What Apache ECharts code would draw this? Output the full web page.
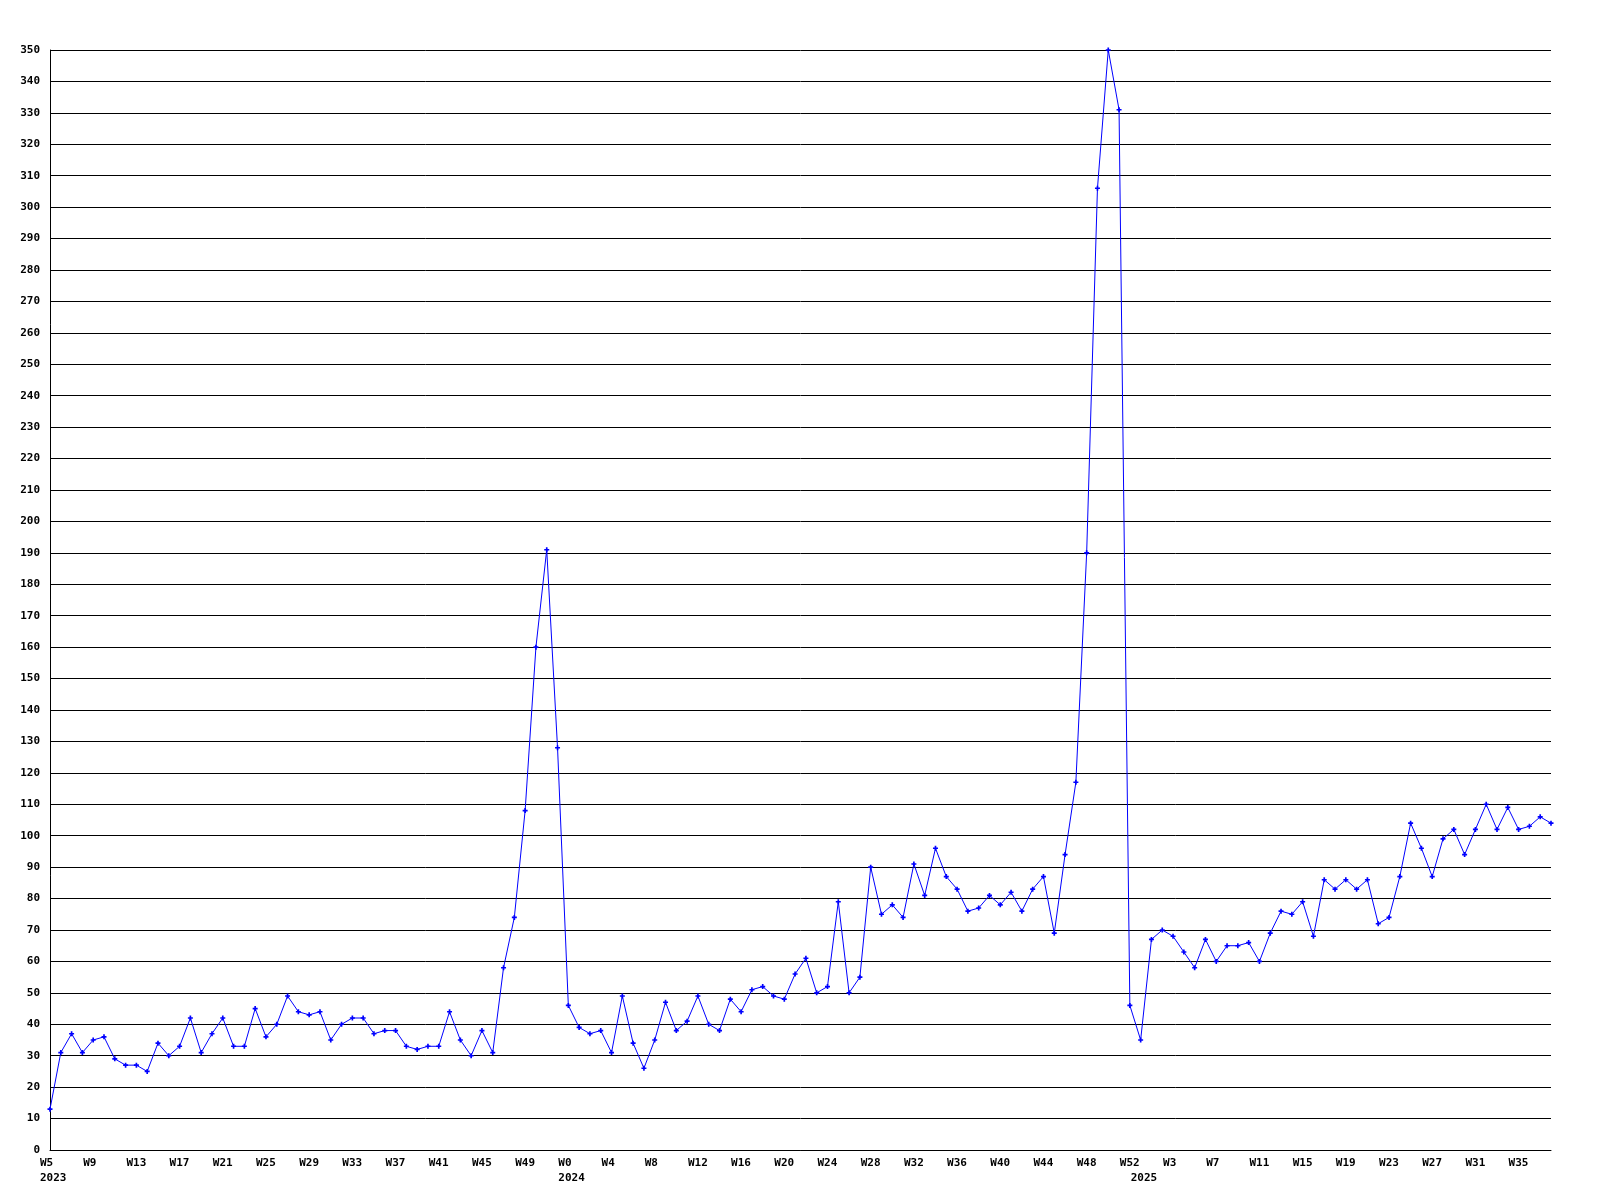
<!DOCTYPE html>
<html>
<head>
<meta charset="utf-8">
<script src="https://cdn.jsdelivr.net/npm/echarts@6/dist/echarts.min.js"></script>
<style>
html,body{margin:0;padding:0;background:#fff;}
#chart{width:1600px;height:1200px;}
</style>
</head>
<body>
<div id="chart"></div>
<script>
// Week categories (year, week)
const weeks2023 = ["W5","W6","W7","W8","W9","W10","W11","W12","W13","W14","W15","W16","W17","W18","W19","W20","W21","W22","W23","W24","W25","W26","W27","W28","W29","W30","W31","W32","W33","W34","W35","W36","W37","W38","W39","W40","W41","W42","W43","W44","W45","W46","W47","W48","W49","W50","W51","W52"];
const weeks2024 = ["W0","W1","W2","W3","W4","W5","W6","W7","W8","W9","W10","W11","W12","W13","W14","W15","W16","W17","W18","W19","W20","W21","W22","W23","W24","W25","W26","W27","W28","W29","W30","W31","W32","W33","W34","W35","W36","W37","W38","W39","W40","W41","W42","W43","W44","W45","W46","W47","W48","W49","W50","W51","W52"];
const weeks2025 = ["W0","W1","W2","W3","W4","W5","W6","W7","W8","W9","W10","W11","W12","W13","W14","W15","W16","W17","W18","W19","W20","W21","W22","W23","W24","W25","W26","W27","W28","W29","W30","W31","W32","W33","W34","W35","W36","W37","W38"];

// Series values
const values2023 = [13,31,37,31,35,36,29,27,27,25,34,30,33,42,31,37,42,33,33,45,36,40,49,44,43,44,35,40,42,42,37,38,38,33,32,33,33,44,35,30,38,31,58,74,108,160,191,128];
const values2024 = [46,39,37,38,31,49,34,26,35,47,38,41,49,40,38,48,44,51,52,49,48,56,61,50,52,79,50,55,90,75,78,74,91,81,96,87,83,76,77,81,78,82,76,83,87,69,94,117,190,306,350,331,46];
const values2025 = [35,67,70,68,63,58,67,60,65,65,66,60,69,76,75,79,68,86,83,86,83,86,72,74,87,104,96,87,99,102,94,102,110,102,109,102,103,106,104];

// Y tick settings
const yMin = 0, yMax = 350, yStep = 10;

const categories = [];
const yearStarts = {};
[[2023, weeks2023], [2024, weeks2024], [2025, weeks2025]].forEach(([y, ws]) => {
  yearStarts[categories.length] = y;
  ws.forEach(w => categories.push(y + " " + w));
});
const values = values2023.concat(values2024, values2025);

const font = { fontFamily: '"DejaVu Sans Mono", "Liberation Mono", monospace', fontWeight: 'bold', fontSize: 11, color: '#000' };

const chart = echarts.init(document.getElementById('chart'), null, { renderer: 'canvas' });
chart.setOption({
  animation: false,
  backgroundColor: '#fff',
  grid: { left: 50, right: 49, top: 50, bottom: 50, containLabel: false, outerBoundsMode: 'none' },
  xAxis: {
    type: 'category',
    data: categories,
    boundaryGap: false,
    axisLine: { show: true, lineStyle: { color: '#000', width: 1 } },
    axisTick: { show: false },
    splitLine: { show: false },
    axisLabel: Object.assign({}, font, {
      interval: (i) => i % 4 === 0 || yearStarts[i] !== undefined,
      align: 'left',
      padding: [0, 0, 0, -10],
      margin: 6,
      lineHeight: 15,
      hideOverlap: false,
      formatter: (val, i) => {
        const parts = val.split(' ');
        const w = (i % 4 === 0) ? parts[1] : ' ';
        return yearStarts[i] !== undefined ? w + '\n' + parts[0] : w;
      }
    })
  },
  yAxis: {
    type: 'value',
    min: yMin, max: yMax, interval: yStep,
    axisLine: { show: true, lineStyle: { color: '#000', width: 1 } },
    axisTick: { show: false },
    splitLine: { show: true, lineStyle: { color: '#000', width: 1 } },
    axisLabel: Object.assign({}, font, { margin: 10, showMinLabel: true, showMaxLabel: true })
  },
  series: [{
    type: 'line',
    data: values,
    symbol: 'path://M1,0H2V1H3V2H2V3H1V2H0V1H1Z',
    symbolSize: 5,
    showAllSymbol: true,
    itemStyle: { color: '#0000ff' },
    lineStyle: { color: '#0000ff', width: 1 },
    emphasis: { disabled: true }
  }]
});
</script>
</body>
</html>
